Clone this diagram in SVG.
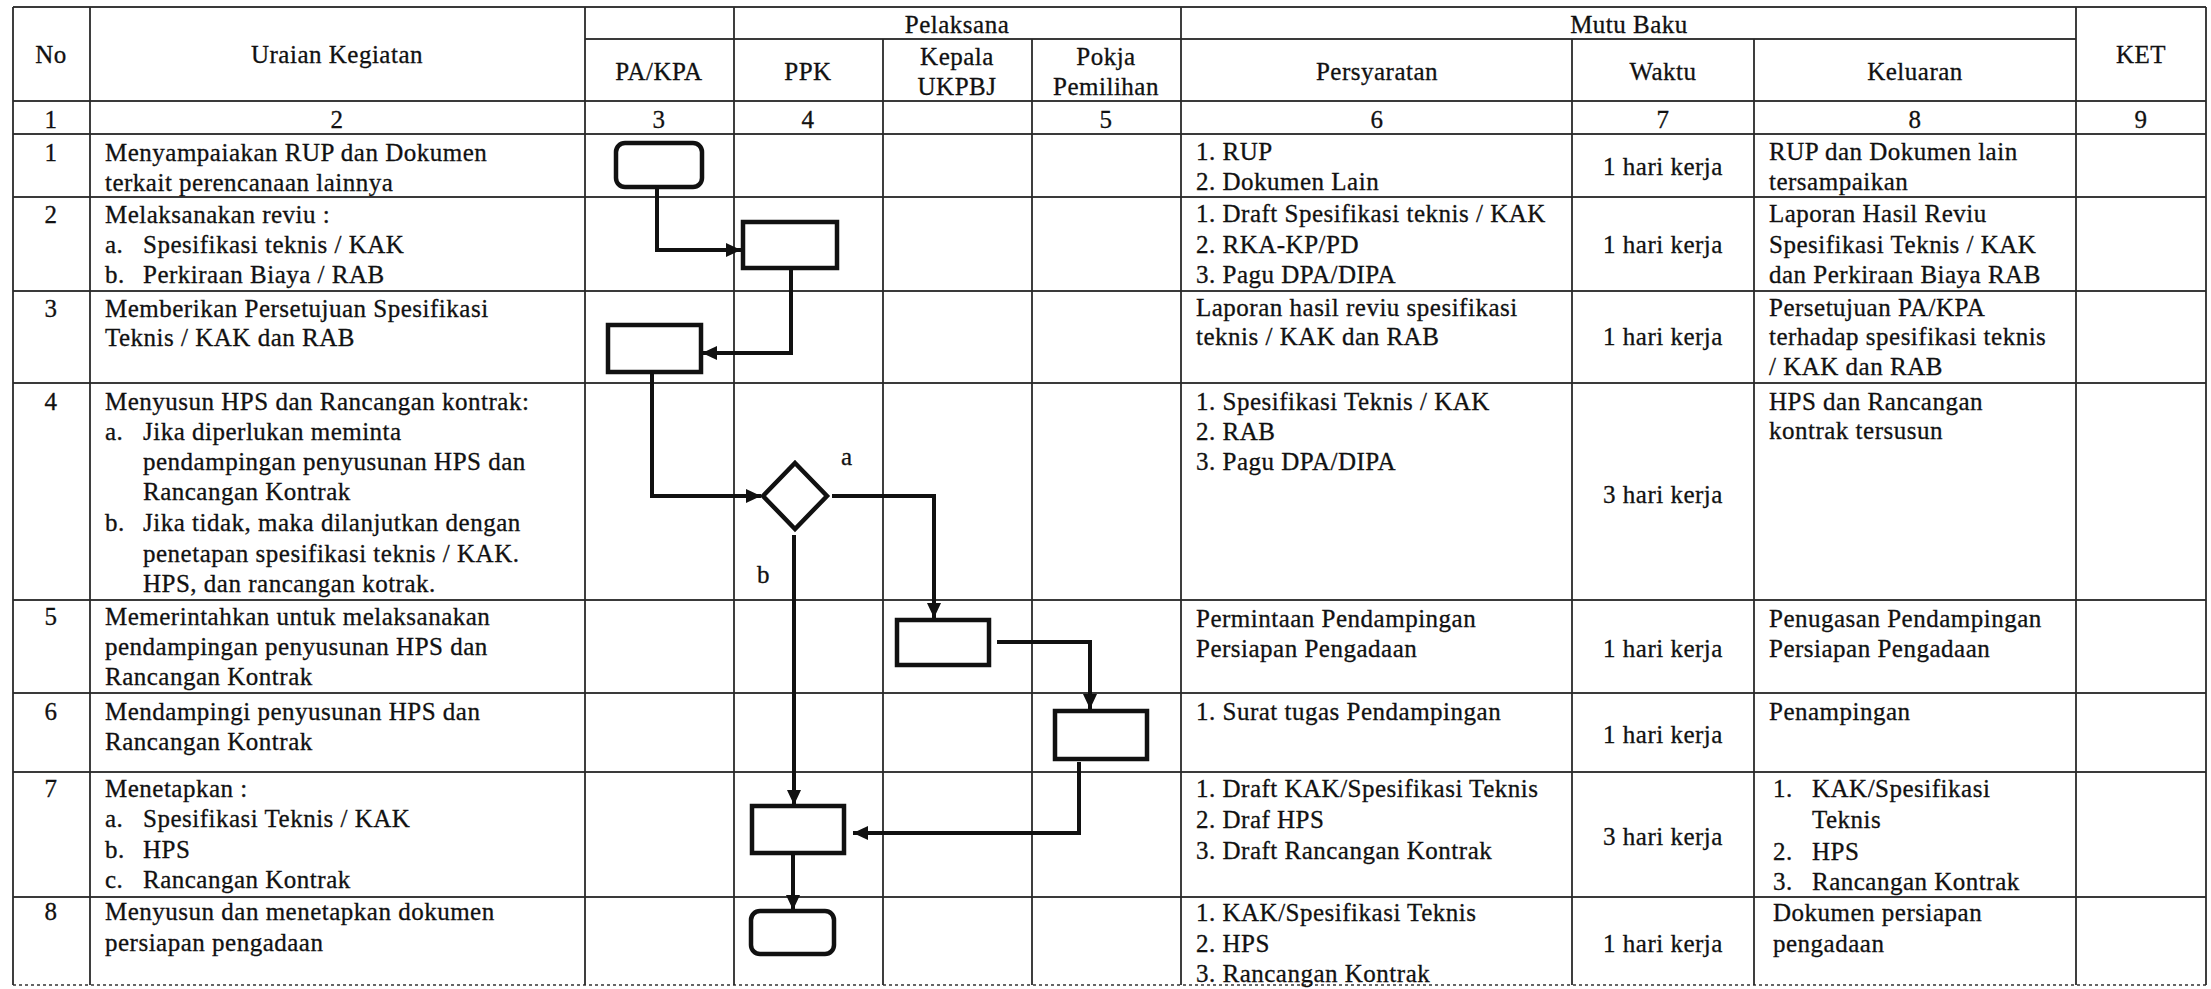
<svg xmlns="http://www.w3.org/2000/svg" width="2211" height="989" viewBox="0 0 2211 989">
<style>
.bg{fill:#fff}
.gl{stroke:#2a2a2a;stroke-width:1.8;fill:none}
.hl{stroke:#3a3a3a;stroke-width:2.2;fill:none}
.bl{stroke:#666;stroke-width:1.8;stroke-dasharray:3 3;fill:none}
text{font-family:"Liberation Serif","Times New Roman",serif;font-size:25px;fill:#111;stroke:#111;stroke-width:0.3;letter-spacing:0.5px}
.c{text-anchor:middle}
.shape{fill:#fff;stroke:#111;stroke-width:4.5}
.cn{fill:none;stroke:#111;stroke-width:4}
</style>
<defs>
<marker id="arr" markerUnits="userSpaceOnUse" markerWidth="16" markerHeight="14" refX="15" refY="7" orient="auto">
<path d="M0,0 L15,7 L0,14 z" fill="#111"/>
</marker>
</defs>
<rect class="bg" x="0" y="0" width="2211" height="989"/>

<g id="table">
<line class="hl" x1="13" y1="7" x2="2206" y2="7"/>
<line class="hl" x1="585" y1="39" x2="2076" y2="39"/>
<line class="hl" x1="13" y1="101" x2="2206" y2="101"/>
<line class="hl" x1="13" y1="134" x2="2206" y2="134"/>
<line class="hl" x1="13" y1="197" x2="2206" y2="197"/>
<line class="hl" x1="13" y1="291" x2="2206" y2="291"/>
<line class="hl" x1="13" y1="383" x2="2206" y2="383"/>
<line class="hl" x1="13" y1="600" x2="2206" y2="600"/>
<line class="hl" x1="13" y1="693" x2="2206" y2="693"/>
<line class="hl" x1="13" y1="772" x2="2206" y2="772"/>
<line class="hl" x1="13" y1="897" x2="2206" y2="897"/>
<line class="bl" x1="13" y1="985" x2="2206" y2="985"/>
<line class="gl" x1="13" y1="7" x2="13" y2="985"/>
<line class="gl" x1="90" y1="7" x2="90" y2="985"/>
<line class="gl" x1="585" y1="7" x2="585" y2="985"/>
<line class="gl" x1="734" y1="7" x2="734" y2="985"/>
<line class="gl" x1="883" y1="39" x2="883" y2="985"/>
<line class="gl" x1="1032" y1="39" x2="1032" y2="985"/>
<line class="gl" x1="1181" y1="7" x2="1181" y2="985"/>
<line class="gl" x1="1572" y1="39" x2="1572" y2="985"/>
<line class="gl" x1="1754" y1="39" x2="1754" y2="985"/>
<line class="gl" x1="2076" y1="7" x2="2076" y2="985"/>
<line class="gl" x1="2206" y1="7" x2="2206" y2="985"/>
</g>

<g id="header">
<text class="c" x="51" y="63">No</text>
<text class="c" x="337" y="63">Uraian Kegiatan</text>
<text class="c" x="957" y="33">Pelaksana</text>
<text class="c" x="1629" y="33">Mutu Baku</text>
<text class="c" x="2141" y="63">KET</text>
<text class="c" x="659" y="80">PA/KPA</text>
<text class="c" x="808" y="80">PPK</text>
<text class="c" x="957" y="65">Kepala</text>
<text class="c" x="957" y="95">UKPBJ</text>
<text class="c" x="1106" y="65">Pokja</text>
<text class="c" x="1106" y="95">Pemilihan</text>
<text class="c" x="1377" y="80">Persyaratan</text>
<text class="c" x="1663" y="80">Waktu</text>
<text class="c" x="1915" y="80">Keluaran</text>
<text class="c" x="51" y="128">1</text>
<text class="c" x="337" y="128">2</text>
<text class="c" x="659" y="128">3</text>
<text class="c" x="808" y="128">4</text>
<text class="c" x="1106" y="128">5</text>
<text class="c" x="1377" y="128">6</text>
<text class="c" x="1663" y="128">7</text>
<text class="c" x="1915" y="128">8</text>
<text class="c" x="2141" y="128">9</text>
</g>

<g id="row1">
<text class="c" x="51" y="161">1</text>
<text x="105" y="161">Menyampaiakan RUP dan Dokumen</text>
<text x="105" y="191">terkait perencanaan lainnya</text>
<text x="1196" y="160">1. RUP</text>
<text x="1196" y="190">2. Dokumen Lain</text>
<text class="c" x="1663" y="175">1 hari kerja</text>
<text x="1769" y="160">RUP dan Dokumen lain</text>
<text x="1769" y="190">tersampaikan</text>
</g>

<g id="row2">
<text class="c" x="51" y="223">2</text>
<text x="105" y="223">Melaksanakan reviu :</text>
<text x="105" y="253">a.</text><text x="143" y="253">Spesifikasi teknis / KAK</text>
<text x="105" y="283">b.</text><text x="143" y="283">Perkiraan Biaya / RAB</text>
<text x="1196" y="222">1. Draft Spesifikasi teknis / KAK</text>
<text x="1196" y="253">2. RKA-KP/PD</text>
<text x="1196" y="283">3. Pagu DPA/DIPA</text>
<text class="c" x="1663" y="253">1 hari kerja</text>
<text x="1769" y="222">Laporan Hasil Reviu</text>
<text x="1769" y="253">Spesifikasi Teknis / KAK</text>
<text x="1769" y="283">dan Perkiraan Biaya RAB</text>
</g>

<g id="row3">
<text class="c" x="51" y="317">3</text>
<text x="105" y="317">Memberikan Persetujuan Spesifikasi</text>
<text x="105" y="346">Teknis / KAK dan RAB</text>
<text x="1196" y="316">Laporan hasil reviu spesifikasi</text>
<text x="1196" y="345">teknis / KAK dan RAB</text>
<text class="c" x="1663" y="345">1 hari kerja</text>
<text x="1769" y="316">Persetujuan PA/KPA</text>
<text x="1769" y="345">terhadap spesifikasi teknis</text>
<text x="1769" y="375">/ KAK dan RAB</text>
</g>

<g id="row4">
<text class="c" x="51" y="410">4</text>
<text x="105" y="410">Menyusun HPS dan Rancangan kontrak:</text>
<text x="105" y="440">a.</text><text x="143" y="440">Jika diperlukan meminta</text>
<text x="143" y="470">pendampingan penyusunan HPS dan</text>
<text x="143" y="500">Rancangan Kontrak</text>
<text x="105" y="531">b.</text><text x="143" y="531">Jika tidak, maka dilanjutkan dengan</text>
<text x="143" y="562">penetapan spesifikasi teknis / KAK.</text>
<text x="143" y="592">HPS, dan rancangan kotrak.</text>
<text x="1196" y="410">1. Spesifikasi Teknis / KAK</text>
<text x="1196" y="440">2. RAB</text>
<text x="1196" y="470">3. Pagu DPA/DIPA</text>
<text class="c" x="1663" y="503">3 hari kerja</text>
<text x="1769" y="410">HPS dan Rancangan</text>
<text x="1769" y="439">kontrak tersusun</text>
</g>

<g id="row5">
<text class="c" x="51" y="625">5</text>
<text x="105" y="625">Memerintahkan untuk melaksanakan</text>
<text x="105" y="655">pendampingan penyusunan HPS dan</text>
<text x="105" y="685">Rancangan Kontrak</text>
<text x="1196" y="627">Permintaan Pendampingan</text>
<text x="1196" y="657">Persiapan Pengadaan</text>
<text class="c" x="1663" y="657">1 hari kerja</text>
<text x="1769" y="627">Penugasan Pendampingan</text>
<text x="1769" y="657">Persiapan Pengadaan</text>
</g>

<g id="row6">
<text class="c" x="51" y="720">6</text>
<text x="105" y="720">Mendampingi penyusunan HPS dan</text>
<text x="105" y="750">Rancangan Kontrak</text>
<text x="1196" y="720">1. Surat tugas Pendampingan</text>
<text class="c" x="1663" y="743">1 hari kerja</text>
<text x="1769" y="720">Penampingan</text>
</g>

<g id="row7">
<text class="c" x="51" y="797">7</text>
<text x="105" y="797">Menetapkan :</text>
<text x="105" y="827">a.</text><text x="143" y="827">Spesifikasi Teknis / KAK</text>
<text x="105" y="858">b.</text><text x="143" y="858">HPS</text>
<text x="105" y="888">c.</text><text x="143" y="888">Rancangan Kontrak</text>
<text x="1196" y="797">1. Draft KAK/Spesifikasi Teknis</text>
<text x="1196" y="828">2. Draf HPS</text>
<text x="1196" y="859">3. Draft Rancangan Kontrak</text>
<text class="c" x="1663" y="845">3 hari kerja</text>
<text x="1773" y="797">1.</text><text x="1812" y="797">KAK/Spesifikasi</text>
<text x="1812" y="828">Teknis</text>
<text x="1773" y="860">2.</text><text x="1812" y="860">HPS</text>
<text x="1773" y="890">3.</text><text x="1812" y="890">Rancangan Kontrak</text>
</g>

<g id="row8">
<text class="c" x="51" y="920">8</text>
<text x="105" y="920">Menyusun dan menetapkan dokumen</text>
<text x="105" y="951">persiapan pengadaan</text>
<text x="1196" y="921">1. KAK/Spesifikasi Teknis</text>
<text x="1196" y="952">2. HPS</text>
<text x="1196" y="982">3. Rancangan Kontrak</text>
<text class="c" x="1663" y="952">1 hari kerja</text>
<text x="1773" y="921">Dokumen persiapan</text>
<text x="1773" y="952">pengadaan</text>
</g>

<g id="connectors">
<polyline class="cn" points="657,187 657,250 741,250" marker-end="url(#arr)"/>
<polyline class="cn" points="791,268 791,353 702,353" marker-end="url(#arr)"/>
<polyline class="cn" points="652,372 652,496 761,496" marker-end="url(#arr)"/>
<polyline class="cn" points="832,496 934,496 934,618" marker-end="url(#arr)"/>
<polyline class="cn" points="997,642 1090,642 1090,709" marker-end="url(#arr)"/>
<polyline class="cn" points="1079,762 1079,833 853,833" marker-end="url(#arr)"/>
<polyline class="cn" points="794,535 794,805" marker-end="url(#arr)"/>
<polyline class="cn" points="793,853 793,910" marker-end="url(#arr)"/>
<text x="841" y="465">a</text>
<text x="757" y="583">b</text>
</g>

<g id="n1"><rect class="shape" x="616" y="143" width="86" height="44" rx="9"/></g>
<g id="n2"><rect class="shape" x="743" y="222" width="94" height="46"/></g>
<g id="n3"><rect class="shape" x="608" y="325" width="93" height="47"/></g>
<g id="n4"><polygon class="shape" points="795,463 827,496 795,529 763,496"/></g>
<g id="n5"><rect class="shape" x="897" y="620" width="92" height="45"/></g>
<g id="n6"><rect class="shape" x="1055" y="711" width="92" height="48"/></g>
<g id="n7"><rect class="shape" x="752" y="806" width="92" height="47"/></g>
<g id="n8"><rect class="shape" x="751" y="911" width="83" height="43" rx="9"/></g>
</svg>
